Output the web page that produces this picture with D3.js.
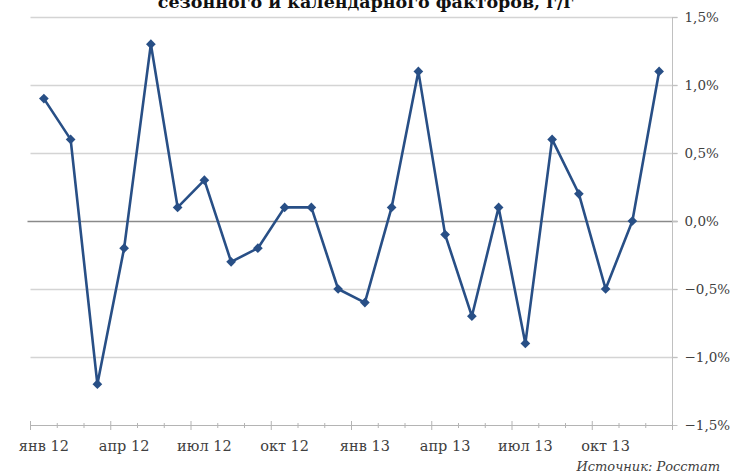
<!DOCTYPE html>
<html>
<head>
<meta charset="utf-8">
<script src="https://cdn.jsdelivr.net/npm/d3@7"></script>
<style>
body { margin: 0; background: #fff; }
svg { display: block; font-family: 'DejaVu Serif', serif; }
</style>
</head>
<body>
<div id="chart"></div>
<script>
const months = ['янв 12', 'фев 12', 'мар 12', 'апр 12', 'май 12', 'июн 12', 'июл 12', 'авг 12', 'сен 12', 'окт 12', 'ноя 12', 'дек 12',
	'янв 13', 'фев 13', 'мар 13', 'апр 13', 'май 13', 'июн 13', 'июл 13', 'авг 13', 'сен 13', 'окт 13', 'ноя 13', 'дек 13'];
const values = [0.9, 0.6, -1.2, -0.2, 1.3, 0.1, 0.3, -0.3, -0.2, 0.1, 0.1, -0.5,
	-0.6, 0.1, 1.1, -0.1, -0.7, 0.1, -0.9, 0.6, 0.2, -0.5, 0.0, 1.1];
const xLabels = ['янв 12', 'апр 12', 'июл 12', 'окт 12', 'янв 13', 'апр 13', 'июл 13', 'окт 13'];
const yTicks = [-1.5, -1.0, -0.5, 0, 0.5, 1.0, 1.5];
const title = 'сезонного и календарного факторов, г/г';
const source = 'Источник: Росстат';

const W = 731, H = 475;
const plotLeft = 30.5, plotRight = 672.5, plotTop = 17, plotBottom = 425;

const svg = d3.select('#chart').append('svg')
	.attr('width', W)
	.attr('height', H);

const x = d3.scaleBand()
	.domain(months)
	.range([plotLeft, plotRight]);

const y = d3.scaleLinear()
	.domain([-1.5, 1.5])
	.range([plotBottom, plotTop]);

const fmt = d => d3.format('.1%')(d / 100).replace('.', ',');

// gridlines
svg.append('g')
	.selectAll('line')
	.data(yTicks.filter(d => d !== 0 && d !== -1.5))
	.join('line')
	.attr('x1', plotLeft)
	.attr('x2', plotRight + 5)
	.attr('y1', d => Math.round(y(d)) + 0.5)
	.attr('y2', d => Math.round(y(d)) + 0.5)
	.attr('stroke', '#d4d4d4')
	.attr('stroke-width', 1.3);

// zero line
svg.append('line')
	.attr('x1', plotLeft - 3)
	.attr('x2', plotRight + 5)
	.attr('y1', Math.round(y(0)) + 0.5)
	.attr('y2', Math.round(y(0)) + 0.5)
	.attr('stroke', '#8a8a8a')
	.attr('stroke-width', 1.3);

// right axis
const yAxis = d3.axisRight(y)
	.tickValues(yTicks)
	.tickSize(5)
	.tickPadding(7)
	.tickFormat(fmt);

const ya = svg.append('g')
	.attr('transform', `translate(${plotRight}, 0)`)
	.call(yAxis);
ya.select('.domain').attr('stroke', '#c0c0c0').attr('d', `M0,${plotTop}V${plotBottom}`);
ya.selectAll('.tick line').attr('stroke', '#c0c0c0');
ya.selectAll('.tick text')
	.attr('fill', '#404040')
	.style('font-size', '13.5px')
	.style('font-family', "'DejaVu Serif', serif");

// bottom axis
const bounds = d3.range(months.length + 1).map(i => plotLeft + i * x.step());
svg.append('line')
	.attr('x1', plotLeft)
	.attr('x2', plotRight)
	.attr('y1', plotBottom + 0.5)
	.attr('y2', plotBottom + 0.5)
	.attr('stroke', '#b4b4b4')
	.attr('stroke-width', 1.2);
svg.append('g')
	.selectAll('line')
	.data(bounds)
	.join('line')
	.attr('x1', d => d)
	.attr('x2', d => d)
	.attr('y1', (d, i) => plotBottom - (i % 3 === 0 ? 4 : 2))
	.attr('y2', (d, i) => plotBottom + (i % 3 === 0 ? 5 : 3))
	.attr('stroke', '#b4b4b4')
	.attr('stroke-width', 1);

svg.append('g')
	.selectAll('text')
	.data(xLabels)
	.join('text')
	.attr('x', d => x(d) + x.bandwidth() / 2)
	.attr('y', plotBottom + 26)
	.attr('text-anchor', 'middle')
	.attr('fill', '#404040')
	.style('font-size', '14.5px')
	.text(d => d);

// line
const line = d3.line()
	.x((d, i) => x(months[i]) + x.bandwidth() / 2)
	.y(d => y(d));

svg.append('path')
	.datum(values)
	.attr('d', line)
	.attr('fill', 'none')
	.attr('stroke', '#284f86')
	.attr('stroke-width', 2.6)
	.attr('stroke-linejoin', 'round');

svg.append('g')
	.selectAll('path')
	.data(values)
	.join('path')
	.attr('d', d3.symbol(d3.symbolDiamond2, 60))
	.attr('transform', (d, i) => `translate(${x(months[i]) + x.bandwidth() / 2}, ${y(d)})`)
	.attr('fill', '#284f86');

// title (second line, clipped at top)
svg.append('text')
	.attr('x', 366)
	.attr('y', 8)
	.attr('text-anchor', 'middle')
	.attr('fill', '#111')
	.style('font-size', '17.5px')
	.style('font-weight', 'bold')
	.text(title);

svg.append('text')
	.attr('x', 720)
	.attr('y', 471)
	.attr('text-anchor', 'end')
	.attr('fill', '#404040')
	.style('font-size', '13px')
	.style('font-style', 'italic')
	.text(source);
</script>
</body>
</html>
